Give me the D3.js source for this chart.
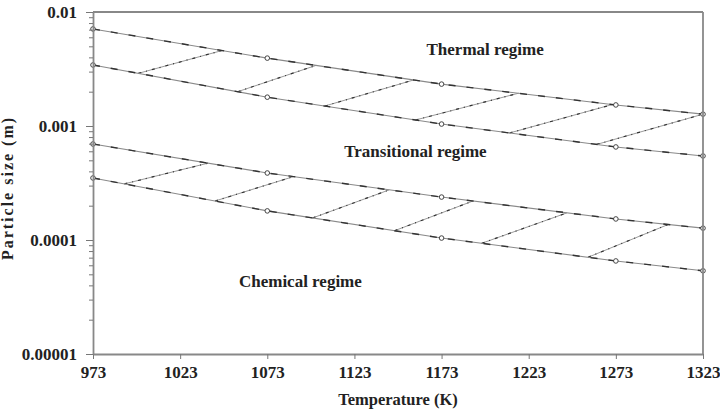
<!DOCTYPE html>
<html>
<head>
<meta charset="utf-8">
<script src="https://cdn.jsdelivr.net/npm/d3@7"></script>
<style>
  body { margin: 0; background: #fff; overflow: hidden; }
  svg { display: block; }
  svg text { font-family: "Liberation Serif", "DejaVu Serif", serif; font-weight: bold; fill: #222; }
</style>
</head>
<body>
<div id="chart"></div>
<script>
const width = 720, height = 411;
const margin = { top: 12, right: 17, bottom: 57, left: 93 };
const innerWidth = width - margin.left - margin.right;
const innerHeight = height - margin.top - margin.bottom;

// temperatures (K) where the boundary curves are marked
const temperatures = [973, 1073, 1173, 1273, 1323];
// particle size boundaries (m)
const thermalUpper = [0.0071, 0.00394, 0.00233, 0.00153, 0.00127];
const thermalLower = [0.00343, 0.00179, 0.00104, 0.000655, 0.000546];
const chemicalUpper = [0.000695, 0.000387, 0.000238, 0.000153, 0.000127];
const chemicalLower = [0.00035, 0.00018, 0.000104, 0.0000655, 0.0000537];

// hatch segments: [temperature on lower curve, temperature on upper curve]
const upperHatch = [[999, 1047], [1056, 1101], [1106, 1157], [1158, 1217], [1212, 1271], [1262, 1323]];
const lowerHatch = [[991, 1039], [1043, 1088], [1099, 1143], [1146, 1191], [1196, 1245], [1257, 1303]];

const xTicks = [973, 1023, 1073, 1123, 1173, 1223, 1273, 1323];
const yTicks = [0.00001, 0.0001, 0.001, 0.01];
const yTickLabels = ["0.00001", "0.0001", "0.001", "0.01"];

const regimeLabels = [
  { text: "Thermal regime", t: 1198, v: 0.0042 },
  { text: "Transitional regime", t: 1158, v: 0.000535 },
  { text: "Chemical regime", t: 1092, v: 0.0000387 }
];

const svg = d3.select("#chart").append("svg")
  .attr("width", width)
  .attr("height", height);

const innerChart = svg.append("g")
  .attr("transform", `translate(${margin.left}, ${margin.top})`);

const xScale = d3.scaleLinear()
  .domain([973, 1323])
  .range([0, innerWidth]);

const yScale = d3.scaleLog()
  .domain([0.00001, 0.01])
  .range([innerHeight, 0]);

// position on a curve between marked points (log-linear)
const onCurve = (series, t) => {
  const i = Math.min(d3.bisectRight(temperatures, t) - 1, temperatures.length - 2);
  const f = (t - temperatures[i]) / (temperatures[i + 1] - temperatures[i]);
  return Math.exp(Math.log(series[i]) + f * (Math.log(series[i + 1]) - Math.log(series[i])));
};

const line = d3.line()
  .x(d => xScale(d[0]))
  .y(d => yScale(d[1]));

const curves = [thermalUpper, thermalLower, chemicalUpper, chemicalLower];

// hatching
const hatchSets = [
  { pairs: upperHatch, lo: thermalLower, hi: thermalUpper },
  { pairs: lowerHatch, lo: chemicalLower, hi: chemicalUpper }
];
hatchSets.forEach(set => {
  const segs = set.pairs.map(p => [[p[0], onCurve(set.lo, p[0])], [p[1], onCurve(set.hi, p[1])]]);
  innerChart.selectAll(null)
    .data(segs)
    .join("path")
      .attr("d", line)
      .attr("fill", "none")
      .attr("stroke", "#9a9a9a")
      .attr("stroke-width", 1);
  innerChart.selectAll(null)
    .data(segs)
    .join("path")
      .attr("d", line)
      .attr("fill", "none")
      .attr("stroke", "#333")
      .attr("stroke-width", 1.2)
      .attr("stroke-dasharray", "3,5,1,5");
});

// boundary curves
curves.forEach(series => {
  const pts = temperatures.map((t, i) => [t, series[i]]);
  innerChart.append("path")
    .datum(pts)
    .attr("d", line)
    .attr("fill", "none")
    .attr("stroke", "#8a8a8a")
    .attr("stroke-width", 1.1);
  innerChart.append("path")
    .datum(pts)
    .attr("d", line)
    .attr("fill", "none")
    .attr("stroke", "#333")
    .attr("stroke-width", 1.4)
    .attr("stroke-dasharray", "7,11");
  innerChart.selectAll(null)
    .data(pts)
    .join("circle")
      .attr("cx", d => xScale(d[0]))
      .attr("cy", d => yScale(d[1]))
      .attr("r", 2.3)
      .attr("fill", "#fff")
      .attr("stroke", "#444")
      .attr("stroke-width", 1);
});

// frame top/right
innerChart.append("line")
  .attr("x1", 0).attr("x2", innerWidth)
  .attr("y1", 0).attr("y2", 0)
  .attr("stroke", "#888").attr("stroke-width", 1.8);
innerChart.append("line")
  .attr("x1", innerWidth).attr("x2", innerWidth)
  .attr("y1", 0).attr("y2", innerHeight)
  .attr("stroke", "#888").attr("stroke-width", 1.8);

// x axis
innerChart.append("g")
  .attr("transform", `translate(0, ${innerHeight})`)
  .call(d3.axisBottom(xScale)
    .tickValues(xTicks)
    .tickFormat(d3.format("d"))
    .tickSize(5)
    .tickPadding(7)
    .tickSizeOuter(0));

// y axis, major ticks
innerChart.append("g")
  .call(d3.axisLeft(yScale)
    .tickValues(yTicks)
    .tickFormat((d, i) => yTickLabels[i])
    .tickSize(7)
    .tickPadding(9)
    .tickSizeOuter(0));

// y axis, minor ticks
const minorTicks = [];
yTicks.slice(0, -1).forEach(base => {
  for (let k = 2; k <= 9; k++) minorTicks.push(base * k);
});
innerChart.append("g")
  .call(d3.axisLeft(yScale)
    .tickValues(minorTicks)
    .tickFormat("")
    .tickSize(4)
    .tickSizeOuter(0))
  .call(g => g.select(".domain").remove());

innerChart.selectAll(".domain")
  .attr("stroke", "#888")
  .attr("stroke-width", 1.8);
innerChart.selectAll(".tick line")
  .attr("stroke", "#777");
innerChart.selectAll(".tick text")
  .style("font-size", "17px")
  .attr("fill", "#222");

// regime labels
innerChart.selectAll(".regime")
  .data(regimeLabels)
  .join("text")
    .attr("class", "regime")
    .attr("x", d => xScale(d.t))
    .attr("y", d => yScale(d.v))
    .attr("text-anchor", "middle")
    .style("font-size", "17px")
    .text(d => d.text);

// axis titles
svg.append("text")
  .attr("x", 398)
  .attr("y", 405)
  .attr("text-anchor", "middle")
  .style("font-size", "16.5px")
  .text("Temperature (K)");

svg.append("text")
  .attr("transform", `translate(13, 188) rotate(-90)`)
  .attr("text-anchor", "middle")
  .style("font-size", "16px")
  .style("letter-spacing", "2px")
  .text("Particle size (m)");
</script>
</body>
</html>
